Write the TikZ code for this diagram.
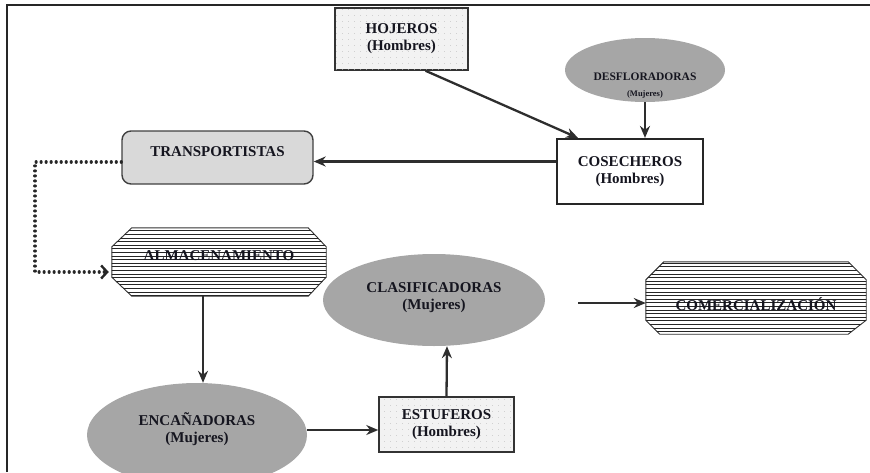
\documentclass[tikz,border=0pt]{standalone}
\usepackage{fontspec}
\setmainfont{Liberation Serif}
\usetikzlibrary{shapes.geometric,arrows.meta,patterns,calc,backgrounds}
\pgfdeclarepatternformonly{sparsedots}{\pgfpointorigin}{\pgfqpoint{1pt}{1pt}}{\pgfqpoint{6pt}{6pt}}{\pgfpathcircle{\pgfqpoint{0.5pt}{0.5pt}}{0.45pt}\pgfusepath{fill}}
\pgfdeclarepatternformonly{hstripes}{\pgfqpoint{-1pt}{-0.5pt}}{\pgfqpoint{4pt}{3.6pt}}{\pgfqpoint{3pt}{3.6pt}}{\pgfsetlinewidth{0.75pt}\pgfpathmoveto{\pgfqpoint{-1pt}{0pt}}\pgfpathlineto{\pgfqpoint{4pt}{0pt}}\pgfusepath{stroke}}
\definecolor{ink}{HTML}{15151F}
\definecolor{linec}{HTML}{2E2E2E}
\begin{document}
\begin{tikzpicture}[x=1pt,y=-1pt,
  txt/.style={font=\fontsize{15}{17}\selectfont\bfseries, text=ink, align=center, inner sep=0pt},
  dotbox/.style={txt, rectangle, draw=black!80, line width=1.5pt, fill=gray!10,
     postaction={pattern=sparsedots, pattern color=gray!50}},
  whitebox/.style={txt, rectangle, draw=black!85, line width=2.2pt, fill=white},
  grayell/.style={txt, ellipse, fill=gray!70, draw=none},
  roundbox/.style={txt, rectangle, rounded corners=9pt, draw=black!75, line width=1.4pt, fill=gray!30},
  octtext/.style={txt, rectangle, draw=none},
  octo/.style={draw=black!80, line width=0.9pt, fill=white, postaction={pattern=hstripes, pattern color=black!85}},
  arr/.style={draw=linec, line width=2.3pt, -{Stealth[length=12pt,width=10pt]}},
  dotarr/.style={draw=black!85, line width=3.2pt, dash pattern=on 0.01pt off 5pt, line cap=round,
     -{Straight Barb[length=6pt,width=13pt,line width=2.4pt]}}
]
\useasboundingbox (0,0) rectangle (870,472);
% frame
\draw[black!85, line width=2.6pt] (7,472) -- (7,5) -- (870,5);

% nodes
\node[dotbox, minimum width=133pt, minimum height=62pt] (hoj) at (401.5,39) {HOJEROS\\(Hombres)};
\node[grayell, minimum width=160pt, minimum height=64pt] (desf) at (645,70) {};
\node[txt, align=center] (desftxt) at (645,86)
   {{\fontsize{11.5}{13}\selectfont DESFLORADORAS}\\[-1pt]{\fontsize{8.5}{10}\selectfont (Mujeres)}};
\node[whitebox, minimum width=146pt, minimum height=65pt] (cos) at (630,171.5) {COSECHEROS\\(Hombres)};
\node[roundbox, minimum width=191pt, minimum height=53pt, text depth=12pt] (trans) at (217.5,157.5) {TRANSPORTISTAS};
\node[octtext, minimum width=214pt, minimum height=68pt, text depth=12pt] (alm) at (219,262) {ALMACENAMIENTO};
\node[grayell, minimum width=220pt, minimum height=104pt, text depth=14pt] (enc) at (197,435) {ENCAÑADORAS\\(Mujeres)};
\node[dotbox, minimum width=135pt, minimum height=55pt] (est) at (446.5,424.5) {ESTUFEROS\\(Hombres)};
\node[grayell, minimum width=222pt, minimum height=92pt, text depth=8pt] (cla) at (434,300) {CLASIFICADORAS\\(Mujeres)};
\node[octtext, minimum width=220pt, minimum height=72pt, text height=24pt, text depth=0pt] (com) at (756,298) {COMERCIALIZACIÓN};

% octagon outlines behind the texts
\begin{pgfonlayer}{background}
\draw[octo] ($(alm.north west)+(20,0)$) -- ($(alm.north east)+(-18,0)$) -- ($(alm.north east)+(0,19)$)
  -- ($(alm.south east)+(0,-19)$) -- ($(alm.south east)+(-18,0)$) -- ($(alm.south west)+(20,0)$)
  -- ($(alm.south west)+(0,-19)$) -- ($(alm.north west)+(0,19)$) -- cycle;
\draw[octo] ($(com.north west)+(18,0)$) -- ($(com.north east)+(-18,0)$) -- ($(com.north east)+(0,18)$)
  -- ($(com.south east)+(0,-14)$) -- ($(com.south east)+(-18,0)$) -- ($(com.south west)+(14,0)$)
  -- ($(com.south west)+(0,-14)$) -- ($(com.north west)+(0,18)$) -- cycle;
\end{pgfonlayer}

% connectors
\draw[arr] ([xshift=24pt]hoj.south) -- ([xshift=-52pt]cos.north);
\draw[arr] (desf.south) -- ([xshift=15pt]cos.north);
\coordinate (cA) at ([yshift=10pt]cos.west);
\draw[arr] (cA) -- (cA -| trans.east);
\coordinate (dA) at (35,162);
\coordinate (dB) at (35,272);
\draw[dotarr] (trans.west |- dA) -- (dA) -- (dB) -- ([xshift=-3pt]alm.west |- dB);
\draw[arr] ([xshift=-16pt]alm.south) -- ([xshift=6pt]enc.north);
\coordinate (eA) at (0,430);
\draw[arr] (enc.east |- eA) -- (est.west |- eA);
\draw[arr] (est.north) -- ([xshift=13pt]cla.south);
\coordinate (kA) at (0,303);
\draw[arr, shorten <=33pt] (cla.east |- kA) -- (com.west |- kA);
\end{tikzpicture}
\end{document}
